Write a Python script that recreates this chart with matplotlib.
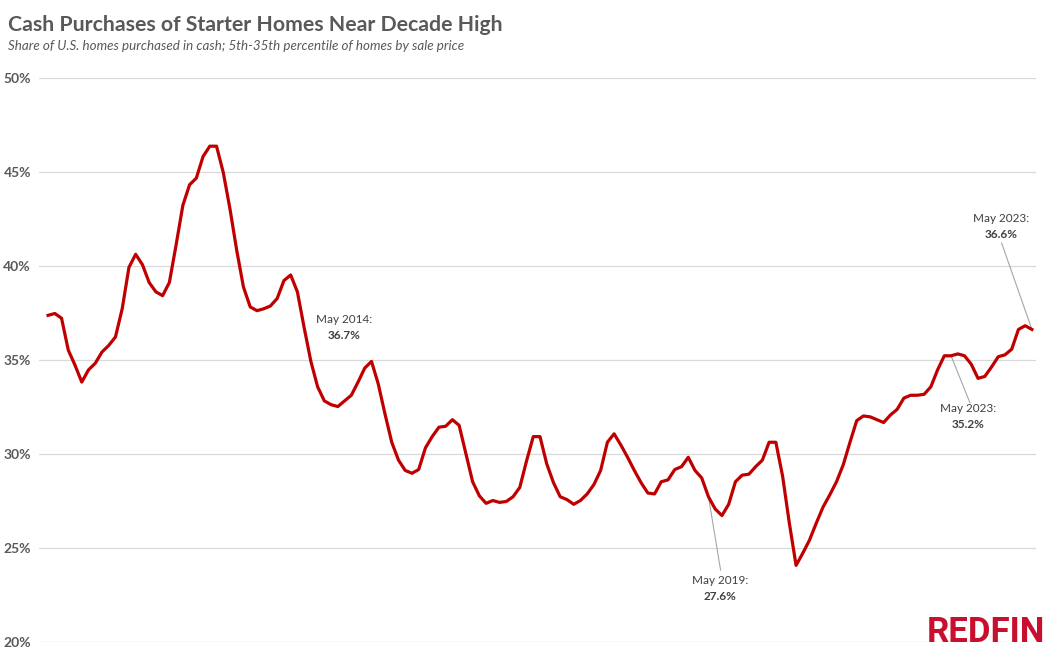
import matplotlib.pyplot as plt
import numpy as np
import pandas as pd

# monthly share of starter homes bought in cash, Mar 2011 - May 2023 (%)
months = pd.date_range('2011-03-01', periods=147, freq='MS')
cash_share = [
    37.35, 37.45, 37.2, 35.5, 34.7, 33.8, 34.45, 34.8, 35.4, 35.75,
    36.2, 37.7, 39.9, 40.6, 40.05, 39.1, 38.6, 38.4, 39.1, 41.1,
    43.2, 44.3, 44.65, 45.8, 46.35, 46.35, 44.95, 43.0, 40.8, 38.85,
    37.8, 37.6, 37.7, 37.85, 38.25, 39.2, 39.5, 38.6, 36.7, 34.9,
    33.55, 32.8, 32.6, 32.5, 32.8, 33.1, 33.8, 34.55, 34.9, 33.7,
    32.1, 30.6, 29.65, 29.1, 28.95, 29.15, 30.3, 30.9, 31.4, 31.45,
    31.8, 31.5, 30.0, 28.5, 27.75, 27.35, 27.5, 27.4, 27.45, 27.7,
    28.2, 29.6, 30.9, 30.9, 29.45, 28.45, 27.7, 27.55, 27.3, 27.5,
    27.85, 28.35, 29.1, 30.6, 31.05, 30.45, 29.8, 29.1, 28.45, 27.9,
    27.85, 28.5, 28.6, 29.15, 29.3, 29.8, 29.1, 28.7, 27.7, 27.05,
    26.7, 27.3, 28.5, 28.85, 28.9, 29.3, 29.65, 30.6, 30.6, 28.8,
    26.3, 24.05, 24.7, 25.4, 26.3, 27.15, 27.8, 28.5, 29.4, 30.6,
    31.75, 32.0, 31.95, 31.8, 31.65, 32.05, 32.35, 32.95, 33.1, 33.1,
    33.15, 33.55, 34.45, 35.2, 35.2, 35.3, 35.2, 34.75, 34.0, 34.1,
    34.6, 35.15, 35.25, 35.55, 36.6, 36.8, 36.6,
]
y_ticks = [20, 25, 30, 35, 40, 45, 50]

# callouts: (month, month label, value label)
callout_months = ['2014-05', '2019-05', '2022-05', '2023-05']
callout_titles = ['May 2014:', 'May 2019:', 'May 2023:', 'May 2023:']
callout_values = ['36.7%', '27.6%', '35.2%', '36.6%']

GRAY = '#595959'
RED = '#c00000'
FONT = ['Lato', 'DejaVu Sans']


def make_chart():
    plt.rcParams['font.family'] = FONT
    fig = plt.figure(figsize=(10.51, 6.53), dpi=100)
    ax = fig.add_axes([0.0374, 0.0176, 0.9483, 0.8636])

    x = np.arange(len(cash_share))
    ax.plot(x, cash_share, color=RED, lw=2.3, solid_joinstyle='round', zorder=3)

    ax.set_xlim(-1.3, 146.6)
    ax.set_ylim(20, 50)
    ax.set_yticks(y_ticks)
    ax.set_yticklabels([f'{t}%' for t in y_ticks], fontsize=10,
                       fontweight='bold', color=GRAY)
    ax.set_xticks([])
    ax.tick_params(axis='y', length=0, pad=6)
    ax.grid(axis='y', color='#d9d9d9', lw=0.9)
    for s in ax.spines.values():
        s.set_visible(False)

    idx = {m.strftime('%Y-%m'): i for i, m in enumerate(months)}
    # text centre (index, value) and leader end, one per callout
    text_pos = [(44.0, 36.7), (99.7, 22.85), (136.5, 32.0), (141.5, 42.1)]
    leader = [None, (99.8, 23.8), (136.8, 32.7), (141.5, 41.2)]
    for k, m in enumerate(callout_months):
        i = idx[m]
        tx, ty = text_pos[k]
        ax.text(tx, ty + 0.42, callout_titles[k], ha='center', va='center',
                fontsize=8.5, color='#404040')
        ax.text(tx, ty - 0.43, callout_values[k], ha='center', va='center',
                fontsize=8.5, color='#404040', fontweight='bold')
        if leader[k] is not None:
            ax.plot([i, leader[k][0]], [cash_share[i], leader[k][1]],
                    color='#a6a6a6', lw=0.8, zorder=2)

    fig.text(0.0076, 0.9525, 'Cash Purchases of Starter Homes Near Decade High',
             fontsize=15.3, fontweight='bold', color=GRAY, va='baseline')
    fig.text(0.0076, 0.9235,
             'Share of U.S. homes purchased in cash; 5th-35th percentile of homes by sale price',
             fontsize=9.6, style='italic', color=GRAY, va='baseline')
    fig.text(0.9948, 0.0168, 'REDFIN', fontsize=25, fontweight='bold',
             color='#c8102e', ha='right', va='baseline',
             family=['Roboto', 'DejaVu Sans'])

    fig.savefig('out.png', dpi=100)


if __name__ == '__main__':
    make_chart()
